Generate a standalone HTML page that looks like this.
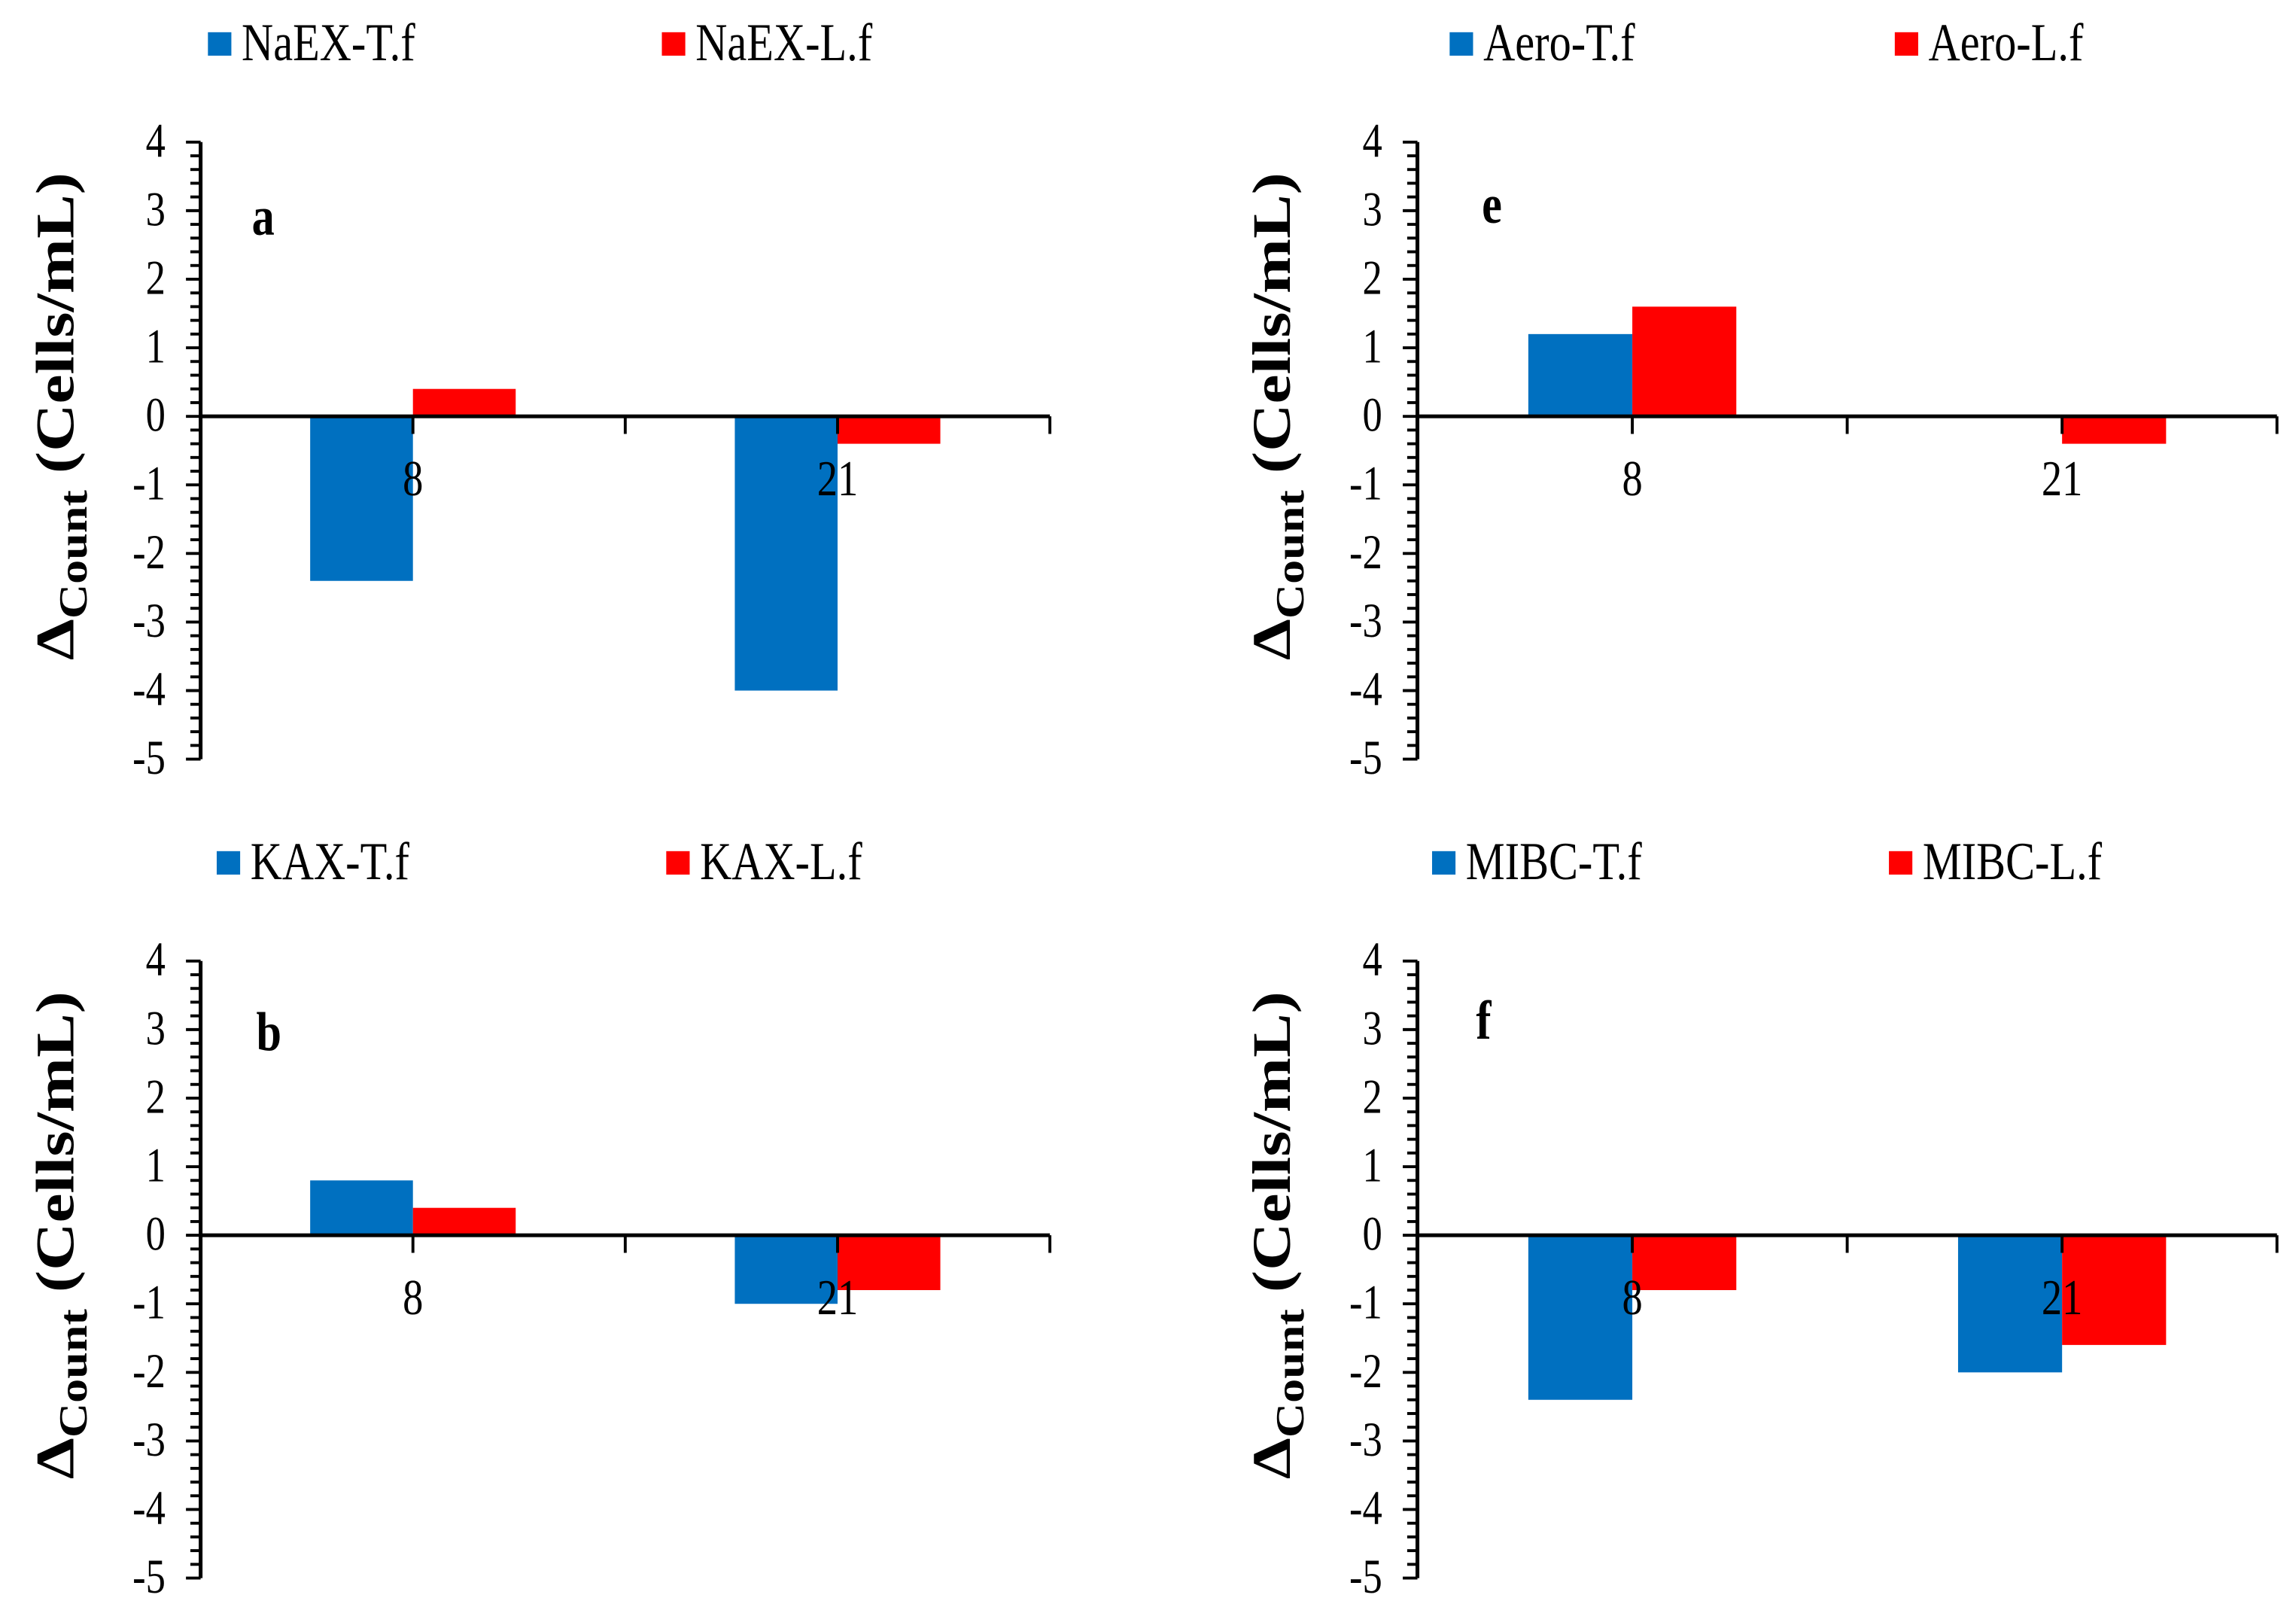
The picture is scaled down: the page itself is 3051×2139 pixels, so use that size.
<!DOCTYPE html>
<html><head><meta charset="utf-8"><style>
html,body{margin:0;padding:0;background:#fff;}
svg{display:block;font-family:"Liberation Serif",serif;}
</style></head><body>
<svg id="chart" width="3051" height="2139" viewBox="0 0 1568 1099" preserveAspectRatio="none" xmlns="http://www.w3.org/2000/svg"></svg>
<script>
const categories = ["8", "21"];
const yTicks = [4, 3, 2, 1, 0, -1, -2, -3, -4, -5];
const panelIds = ["a", "e", "b", "f"];
const seriesT_a = [-2.4, -4.0];
const seriesL_a = [0.4, -0.4];
const seriesT_e = [1.2, 0];
const seriesL_e = [1.6, -0.4];
const seriesT_b = [0.8, -1.0];
const seriesL_b = [0.4, -0.8];
const seriesT_f = [-2.4, -2.0];
const seriesL_f = [-0.8, -1.6];
const legendT = ["NaEX-T.f", "Aero-T.f", "KAX-T.f", "MIBC-T.f"];
const legendL = ["NaEX-L.f", "Aero-L.f", "KAX-L.f", "MIBC-L.f"];

const NS = "http://www.w3.org/2000/svg";
const svg = document.getElementById("chart");
const SY = 1.22;
function mk(tag, attrs, parent) {
  const e = document.createElementNS(NS, tag);
  for (const k in attrs) e.setAttribute(k, attrs[k]);
  (parent || svg).appendChild(e);
  return e;
}
function txt(x, y, size, anchor, weight, parent) {
  const a = {x: 0, y: 0, transform: `translate(${x},${y}) scale(1,${SY})`, "font-size": size, "text-anchor": anchor};
  if (weight) a["font-weight"] = weight;
  return mk("text", a, parent);
}
const layout = [
  {x0: 137, x1: 717, top: 97, legT: 142, legL: 452, legY: 30, lx: 172, ly: 160, ylx: 50},
  {x0: 968, x1: 1555, top: 97, legT: 990, legL: 1294, legY: 30, lx: 1012, ly: 152, ylx: 881},
  {x0: 137, x1: 717, top: 656, legT: 148, legL: 455, legY: 589, lx: 175, ly: 717, ylx: 50},
  {x0: 968, x1: 1555, top: 656, legT: 978, legL: 1290, legY: 589, lx: 1008, ly: 709, ylx: 881}
];
const dataT = [seriesT_a, seriesT_e, seriesT_b, seriesT_f];
const dataL = [seriesL_a, seriesL_e, seriesL_b, seriesL_f];
const unit = 46.8;

layout.forEach((p, i) => {
  const g = mk("g", {});
  
  
  const yScale = v => p.top + (4 - v) * unit;
  const catW = (p.x1 - p.x0) / categories.length;
  const xCenter = j => p.x0 + catW * (j + 0.5);
  const bw = catW * 0.242;
  const y0 = yScale(0);
  categories.forEach((c, j) => {
    const vt = dataT[i][j], vl = dataL[i][j];
    const bt = mk("rect", {x: xCenter(j) - bw, y: Math.min(yScale(vt), y0), width: bw, height: Math.abs(yScale(vt) - y0), fill: "#0070C0"}, g);
    
    
    const bl = mk("rect", {x: xCenter(j), y: Math.min(yScale(vl), y0), width: bw, height: Math.abs(yScale(vl) - y0), fill: "#FF0000"}, g);
    
    
  });
  const ya = mk("line", {x1: p.x0, x2: p.x0, y1: yScale(4), y2: yScale(-5), stroke: "#000", "stroke-width": 2.6}, g);
  
  
  for (let k = 0; k <= 45; k++) {
    const v = 4 - k * 0.2;
    const major = k % 5 === 0;
    mk("line", {x1: p.x0 - (major ? 10 : 7), x2: p.x0, y1: yScale(v), y2: yScale(v), stroke: "#000", "stroke-width": 2}, g);
  }
  yTicks.forEach(t => {
    const tl = txt(p.x0 - 24, yScale(t) + 10, 27, "end", null, g);
    tl.textContent = t;
    
    
  });
  const xa = mk("line", {x1: p.x0, x2: p.x1, y1: y0, y2: y0, stroke: "#000", "stroke-width": 2.6}, g);
  
  
  for (let k = 1; k <= categories.length * 2; k++) {
    const x = p.x0 + catW * k / 2;
    mk("line", {x1: x, x2: x, y1: y0, y2: y0 + 12, stroke: "#000", "stroke-width": 2}, g);
  }
  categories.forEach((c, j) => {
    const cl = txt(xCenter(j), y0 + 54, 28, "middle", null, g);
    cl.textContent = c;
    
    
  });
  const yl = mk("text", {x: 0, y: 0, transform: `translate(${p.ylx},${y0}) rotate(-90) scale(${SY},1)`, "text-anchor": "middle", "font-size": 37, "font-weight": "bold"}, g);
  
  
  const t1 = mk("tspan", {}, yl); t1.textContent = "Δ";
  const t2 = mk("tspan", {"font-size": 27, dy: 9}, yl); t2.textContent = "Count";
  const t3 = mk("tspan", {dy: -9}, yl); t3.textContent = " (Cells/mL)";
  const pl = txt(p.lx, p.ly, 31, "start", "bold", g);
  pl.textContent = panelIds[i];
  
  
  [[p.legT, "#0070C0", legendT[i]], [p.legL, "#FF0000", legendL[i]]].forEach(L => {
    const lg = mk("g", {}, g);
    
    
    mk("rect", {x: L[0], y: p.legY - 8, width: 16, height: 16, fill: L[1]}, lg);
    const lt = txt(L[0] + 23, p.legY + 11, 30, "start", null, lg);
    lt.textContent = L[2];
  });
});
</script>
</body></html>
